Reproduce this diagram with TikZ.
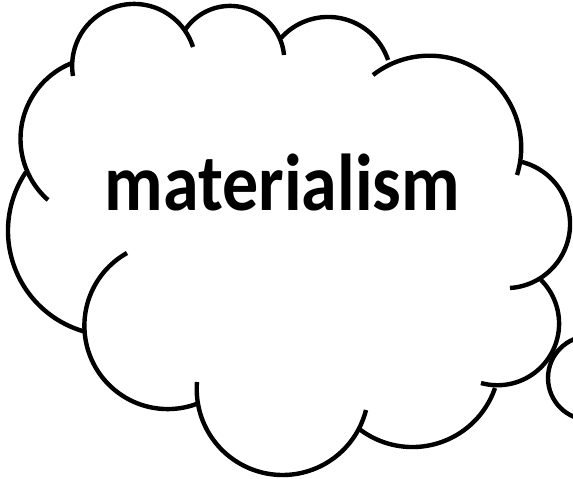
\documentclass[tikz,border=0pt]{standalone}
\usepackage{fontspec}
\usepackage{graphicx}
\setmainfont{Carlito}
\newcommand\cloudlobe[6]{%
  \pgfmathsetmacro\lbAx{#1/100}\pgfmathsetmacro\lbAy{#2/100}%
  \pgfmathsetmacro\lbBx{#3/100}\pgfmathsetmacro\lbBy{#4/100}%
  \pgfmathsetmacro\lbCx{#5/100}\pgfmathsetmacro\lbCy{#6/100}%
  \pgfmathsetmacro\lbD{2*(\lbAx*(\lbBy-\lbCy)+\lbBx*(\lbCy-\lbAy)+\lbCx*(\lbAy-\lbBy))}%
  \pgfmathsetmacro\lbSa{\lbAx*\lbAx+\lbAy*\lbAy}%
  \pgfmathsetmacro\lbSb{\lbBx*\lbBx+\lbBy*\lbBy}%
  \pgfmathsetmacro\lbSc{\lbCx*\lbCx+\lbCy*\lbCy}%
  \pgfmathsetmacro\lbUx{(\lbSa*(\lbBy-\lbCy)+\lbSb*(\lbCy-\lbAy)+\lbSc*(\lbAy-\lbBy))/\lbD}%
  \pgfmathsetmacro\lbUy{(\lbSa*(\lbCx-\lbBx)+\lbSb*(\lbAx-\lbCx)+\lbSc*(\lbBx-\lbAx))/\lbD}%
  \pgfmathsetmacro\lbR{veclen(\lbAx-\lbUx,\lbAy-\lbUy)}%
  \pgfmathsetmacro\lbTa{atan2(\lbAy-\lbUy,\lbAx-\lbUx)}%
  \pgfmathsetmacro\lbTc{atan2(\lbCy-\lbUy,\lbCx-\lbUx)}%
  \pgfmathparse{\lbD>0?1:0}%
  \ifnum\pgfmathresult=1
    \pgfmathsetmacro\lbTe{\lbTa+mod(\lbTc-\lbTa+720,360)}%
  \else
    \pgfmathsetmacro\lbTe{\lbTa-mod(\lbTa-\lbTc+720,360)}%
  \fi
  \draw[cloudline] plot[domain=\lbTa:\lbTe, samples=80] ({\lbUx+\lbR*cos(\x)},{\lbUy+\lbR*sin(\x)});%
}
\begin{document}
\begin{tikzpicture}[x=100pt,y=-100pt,
  cloudline/.style={line width=4.4pt, black},
  bubblestyle/.style={draw, circle, line width=4.4pt, minimum size=84pt, inner sep=0pt},
  labelstyle/.style={font=\fontsize{72}{80}\selectfont\bfseries, anchor=base, inner sep=0pt}]
\useasboundingbox (0,0) rectangle (5.73,4.79);
\fill[white] (0,0) rectangle (5.73,4.79);
\clip (0,0) rectangle (5.73,4.79);
% lobes, clockwise from the left
\cloudlobe{48}{200}{21}{130}{72}{63}     % K
\cloudlobe{73}{76}{137}{4}{193}{47}      % A
\cloudlobe{185}{30}{233}{6}{284}{55}     % B
\cloudlobe{281}{38}{330}{17}{388}{60}    % C
\cloudlobe{373}{75}{483}{73}{517}{175}   % D
\cloudlobe{522}{162}{570}{227}{510}{288} % E
\cloudlobe{541}{280}{559}{327}{481}{383} % F
\cloudlobe{495}{388}{410}{447}{358}{428} % G
\cloudlobe{366}{410}{283}{475}{197}{382} % H
\cloudlobe{199}{403}{88}{350}{127}{253}  % I
\cloudlobe{86}{332}{8}{233}{26}{172}     % J
\node[bubblestyle] (bubble) at (5.90,3.78) {};
\node[labelstyle] (label) at (2.825,2.10) {\scalebox{1}[1.12]{materialism}};
\end{tikzpicture}
\end{document}
